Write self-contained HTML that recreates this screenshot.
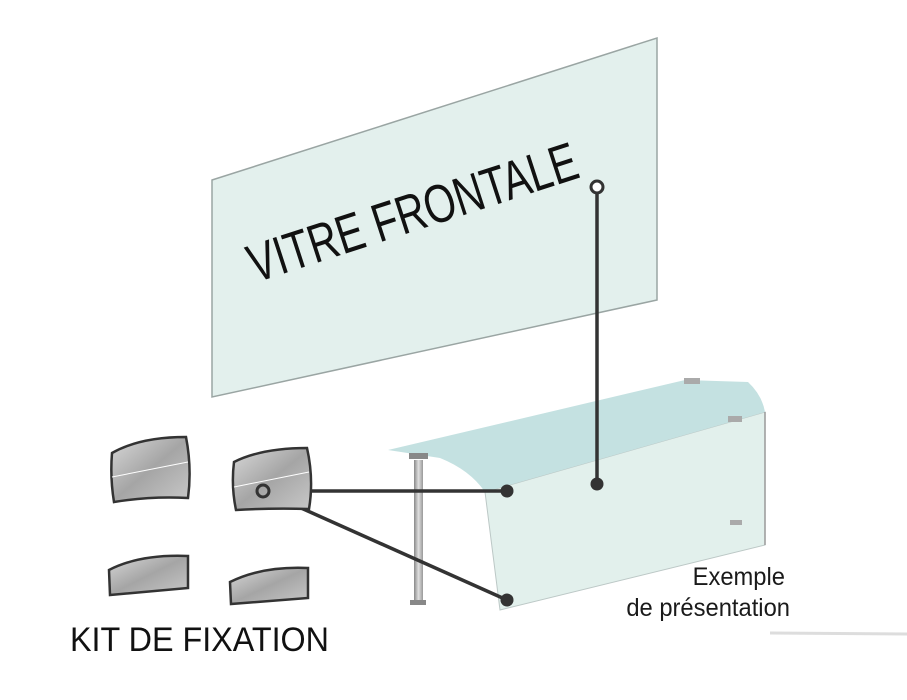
<!DOCTYPE html>
<html><head><meta charset="utf-8"><style>
html,body{margin:0;padding:0;background:#fff;width:907px;height:700px;overflow:hidden}
svg{display:block}
text{font-family:"Liberation Sans",sans-serif;fill:#1a1a1a}
</style></head><body>
<svg width="907" height="700" viewBox="0 0 907 700">
<defs>
<linearGradient id="clip" x1="0" y1="0" x2="1" y2="1">
<stop offset="0" stop-color="#d8d8d8"/><stop offset="0.5" stop-color="#a5a5a5"/><stop offset="1" stop-color="#c8c8c8"/>
</linearGradient>
<linearGradient id="pole" x1="0" x2="1">
<stop offset="0" stop-color="#888"/><stop offset="0.5" stop-color="#e0e0e0"/><stop offset="1" stop-color="#999"/>
</linearGradient>
</defs>
<!-- big panel -->
<polygon points="212,180 657,38 657,300 212,397" fill="#e3f0ed" stroke="#9aa5a3" stroke-width="1.5"/>
<text x="0" y="0" font-size="54" transform="translate(255,283) rotate(-18) scale(0.75,1)" style="fill:#111">VITRE FRONTALE</text>
<!-- showcase -->
<polygon points="485,492 765,412 765,545 500,610" fill="#e2f0ec" stroke="#bcc8c6" stroke-width="1"/>
<path d="M388,450 L685,380 L748,382 Q762,395 765,412 L485,492 Q470,470 440,458 Z" fill="#c4e1e1"/>
<line x1="765" y1="412" x2="765" y2="545" stroke="#999" stroke-width="1.5"/>
<rect x="684" y="378" width="16" height="6" fill="#aaa"/>
<rect x="728" y="416" width="14" height="6" fill="#aaa"/>
<rect x="730" y="520" width="12" height="5" fill="#aaa"/>
<rect x="414" y="460" width="9" height="143" fill="url(#pole)"/>
<rect x="409" y="453" width="19" height="6" fill="#888"/>
<rect x="410" y="600" width="16" height="5" fill="#888"/>
<!-- connectors -->
<line x1="597" y1="187" x2="597" y2="484" stroke="#333" stroke-width="3.5"/>
<circle cx="597" cy="187" r="6" fill="#fff" stroke="#333" stroke-width="3"/>
<circle cx="597" cy="484" r="6.5" fill="#333"/>
<line x1="263" y1="491" x2="507" y2="491" stroke="#333" stroke-width="3.5"/>
<line x1="263" y1="491" x2="507" y2="600" stroke="#333" stroke-width="3.5"/>
<circle cx="507" cy="491" r="6.5" fill="#333"/>
<circle cx="507" cy="600" r="6.5" fill="#333"/>
<!-- clips -->
<path d="M112,453 Q140,437 186,437 Q192,468 188,498 Q150,496 114,502 Q110,478 112,453 Z" fill="url(#clip)" stroke="#333" stroke-width="2.5"/>
<line x1="112" y1="477" x2="188" y2="462" stroke="#fff" stroke-width="1"/>
<path d="M234,462 Q262,448 307,448 Q314,479 309,509 Q270,508 236,510 Q231,486 234,462 Z" fill="url(#clip)" stroke="#333" stroke-width="2.5"/>
<line x1="234" y1="487" x2="309" y2="472" stroke="#fff" stroke-width="1"/>
<circle cx="263" cy="491" r="6" fill="none" stroke="#333" stroke-width="3"/>
<path d="M109,570 Q140,554 188,556 L188,588 L110,595 Z" fill="url(#clip)" stroke="#333" stroke-width="2.5"/>
<path d="M230,582 Q262,566 308,568 L308,598 L231,604 Z" fill="url(#clip)" stroke="#333" stroke-width="2.5"/>
<!-- texts -->
<text x="785" y="585" font-size="25" text-anchor="end" transform="translate(785,0) scale(0.95,1) translate(-785,0)">Exemple</text>
<text x="790" y="616" font-size="25" text-anchor="end" transform="translate(790,0) scale(0.95,1) translate(-790,0)">de présentation</text>
<text x="0" y="0" font-size="34" transform="translate(70,651) scale(0.95,1)" style="fill:#111">KIT DE FIXATION</text>
<line x1="770" y1="633" x2="907" y2="634" stroke="#ddd" stroke-width="3"/>
</svg>
</body></html>
